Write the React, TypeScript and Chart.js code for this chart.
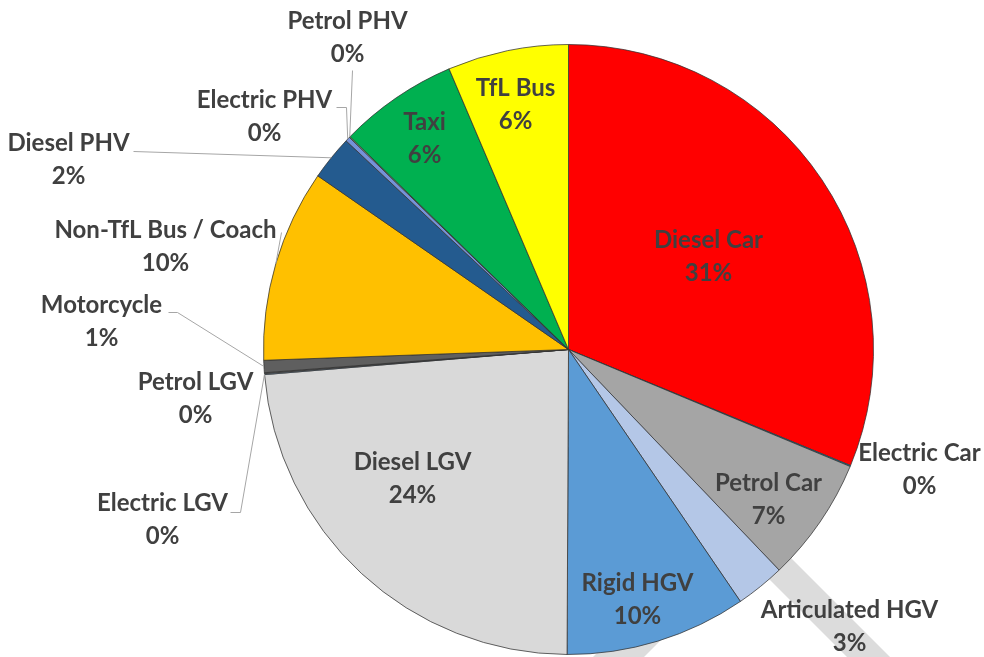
import React, { useEffect, useRef } from "react";
import { Chart, registerables } from "chart.js";

Chart.register(...registerables);

const categories = [
  "Diesel Car", "Electric Car", "Petrol Car", "Articulated HGV", "Rigid HGV",
  "Diesel LGV", "Electric LGV", "Petrol LGV", "Motorcycle", "Non-TfL Bus / Coach",
  "Diesel PHV", "Electric PHV", "Petrol PHV", "Taxi", "TfL Bus",
];
const shares = [31.2, 0.05, 6.6, 2.6, 9.6, 23.6, 0.05, 0.05, 0.65, 10.2, 2.35, 0.25, 0.05, 6.3, 6.4];
const colours = [
  "#ff0000", "#00b0f0", "#a5a5a5", "#b4c7e7", "#5b9bd5",
  "#d9d9d9", "#9dc3e6", "#7f7f7f", "#5f5f5f", "#ffc000",
  "#245b8f", "#7592d8", "#a9d18e", "#00b050", "#ffff00",
];

// label layout: line-1 centre relative to pie centre
const labelOffsets: [number, number][] = [
  [140, -109], [351, 104], [200, 134], [281, 261], [69, 234],
  [-156, 113], [-406, 154], [-373, 33], [-467, -44], [-403, -119],
  [-500, -206], [-304, -249], [-221, -328], [-144, -227], [-53, -261],
];
// leader line anchor points (relative to pie centre); line ends at slice mid-angle on edge
const leaders: Record<number, [number, number][]> = {
  12: [[-216, -279]],
  11: [[-232, -242], [-222, -242]],
  10: [[-435, -198]],
  9: [[-287, -117]],
  8: [[-400, -37], [-391, -37]],
  6: [[-338, 163], [-328, 163]],
};
// decorative background bands (relative to pie centre)
const bands: [number, number][][] = [
  [[132, 161], [332, 361], [375, 361], [175, 161]],
  [[-29, 361], [22, 361], [212, 171], [161, 171]],
];

const overlay = {
  id: "overlay",
  beforeDatasetsDraw(chart: any) {
    const arc = chart.getDatasetMeta(0).data[0];
    if (!arc) return;
    const { x, y } = arc;
    const ctx = chart.ctx;
    ctx.save();
    ctx.fillStyle = "#dcdcdc";
    for (const b of bands) {
      ctx.beginPath();
      b.forEach(([dx, dy], i) => (i ? ctx.lineTo(x + dx, y + dy) : ctx.moveTo(x + dx, y + dy)));
      ctx.closePath();
      ctx.fill();
    }
    ctx.restore();
  },
  afterDatasetsDraw(chart: any) {
    const meta = chart.getDatasetMeta(0);
    const ctx = chart.ctx;
    const total = shares.reduce((a, b) => a + b, 0);
    ctx.save();
    ctx.strokeStyle = "#a6a6a6";
    ctx.lineWidth = 1;
    Object.keys(leaders).forEach((k) => {
      const i = Number(k);
      const a: any = meta.data[i];
      const mid = (a.startAngle + a.endAngle) / 2;
      const ex = a.x + Math.cos(mid) * a.outerRadius;
      const ey = a.y + Math.sin(mid) * a.outerRadius;
      ctx.beginPath();
      leaders[i].forEach(([dx, dy], j) => (j ? ctx.lineTo(a.x + dx, a.y + dy) : ctx.moveTo(a.x + dx, a.y + dy)));
      ctx.lineTo(ex, ey);
      ctx.stroke();
    });
    ctx.fillStyle = "#404040";
    ctx.font = "bold 24px Lato";
    ctx.textAlign = "center";
    ctx.textBaseline = "middle";
    meta.data.forEach((a: any, i: number) => {
      const [dx, dy] = labelOffsets[i];
      const pct = Math.round((shares[i] / total) * 100) + "%";
      ctx.fillText(categories[i], a.x + dx, a.y + dy);
      ctx.fillText(pct, a.x + dx, a.y + dy + 33);
    });
    ctx.restore();
  },
};

export default function App() {
  const ref = useRef<HTMLCanvasElement>(null);
  useEffect(() => {
    if (!ref.current) return;
    const chart = new Chart(ref.current, {
      type: "pie",
      data: {
        labels: categories,
        datasets: [
          {
            data: shares,
            backgroundColor: colours,
            borderColor: "rgba(50,50,50,0.75)",
            borderWidth: 1,
          },
        ],
      },
      options: {
        responsive: false,
        animation: false,
        layout: { padding: { left: 263, top: 44, right: 110, bottom: 2 } },
        plugins: { legend: { display: false }, tooltip: { enabled: false } },
      },
      plugins: [overlay],
    });
    return () => chart.destroy();
  }, []);
  return (
    <div style={{ position: "absolute", left: 0, top: 0, width: 984, height: 657, background: "#fff" }}>
      <canvas ref={ref} width={984} height={657} />
    </div>
  );
}
